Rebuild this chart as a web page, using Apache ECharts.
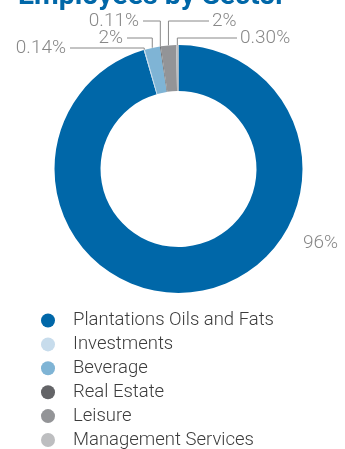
<!DOCTYPE html>
<html>
<head>
<meta charset="utf-8">
<script src="https://cdn.jsdelivr.net/npm/echarts@6/dist/echarts.min.js"></script>
<style>
  html, body { margin: 0; padding: 0; background: #fff; }
  #chart { width: 345px; height: 449px; }
</style>
</head>
<body>
<div id="chart"></div>
<script>
// Employees by sector, share of headcount (%)
const sectors = ['Plantations Oils and Fats', 'Investments', 'Beverage', 'Real Estate', 'Leisure', 'Management Services'];
const shares = [96, 0.14, 2, 0.11, 2, 0.30];
const shareLabels = ['96%', '0.14%', '2%', '0.11%', '2%', '0.30%'];
const colors = ['#0067a8', '#c7dcec', '#7fb4d5', '#636467', '#939497', '#bdbec0'];

// Where each small-sector label sits: text edge x, text middle y, which side the text runs to
const labelSpots = [
  null,
  { x: 66, y: 48, side: 'left' },
  { x: 123, y: 38, side: 'left' },
  { x: 139, y: 21, side: 'left' },
  { x: 212, y: 21, side: 'right' },
  { x: 240, y: 38, side: 'right' }
];

const chart = echarts.init(document.getElementById('chart'), null, { renderer: 'canvas' });

const labelFont = { fontFamily: 'Roboto', fontWeight: 300, fontSize: 19, color: '#888888' };

chart.setOption({
  animation: false,
  color: colors,
  graphic: [{
    type: 'text',
    left: 18,
    top: -18,
    style: {
      text: 'Employees by Sector',
      fontFamily: 'Roboto',
      fontWeight: 'bold',
      fontSize: 28.5,
      fill: '#0067a8'
    }
  }],
  legend: {
    orient: 'vertical',
    left: 41,
    top: 311,
    height: 140,
    padding: 0,
    icon: 'circle',
    itemWidth: 14,
    itemHeight: 14,
    itemGap: 4.9,
    selectedMode: false,
    textStyle: {
      fontFamily: 'Roboto',
      fontWeight: 300,
      fontSize: 18.5,
      lineHeight: 18.5,
      color: '#3c3c3c',
      padding: [0, 0, 0, 13]
    },
    data: sectors
  },
  series: [{
    type: 'pie',
    center: [178.5, 169],
    radius: [78, 124],
    startAngle: 90,
    clockwise: true,
    avoidLabelOverlap: false,
    silent: true,
    data: sectors.map((name, i) => ({ name, value: shares[i], label: { formatter: shareLabels[i] } })),
    label: Object.assign({ show: true, position: 'outside' }, labelFont),
    labelLine: {
      show: true,
      length: 10,
      length2: 10,
      lineStyle: { color: '#888888', width: 1 }
    },
    labelLayout: function (params) {
      const i = params.dataIndex;
      const pts = params.labelLinePoints;
      if (i === 0) {
        // Main sector: label to the lower right of the ring, no leader line
        return {
          x: 303, y: 243, align: 'left', verticalAlign: 'middle',
          labelLinePoints: [pts[0], pts[0], pts[0]]
        };
      }
      const spot = labelSpots[i];
      const ax = pts[0][0];
      const ay = pts[0][1];
      const endX = spot.side === 'left' ? spot.x + 4 : spot.x - 3;
      return {
        x: spot.x,
        y: spot.y,
        align: spot.side === 'left' ? 'right' : 'left',
        verticalAlign: 'middle',
        labelLinePoints: [[ax, ay], [ax, spot.y], [endX, spot.y]]
      };
    }
  }]
});
</script>
</body>
</html>
